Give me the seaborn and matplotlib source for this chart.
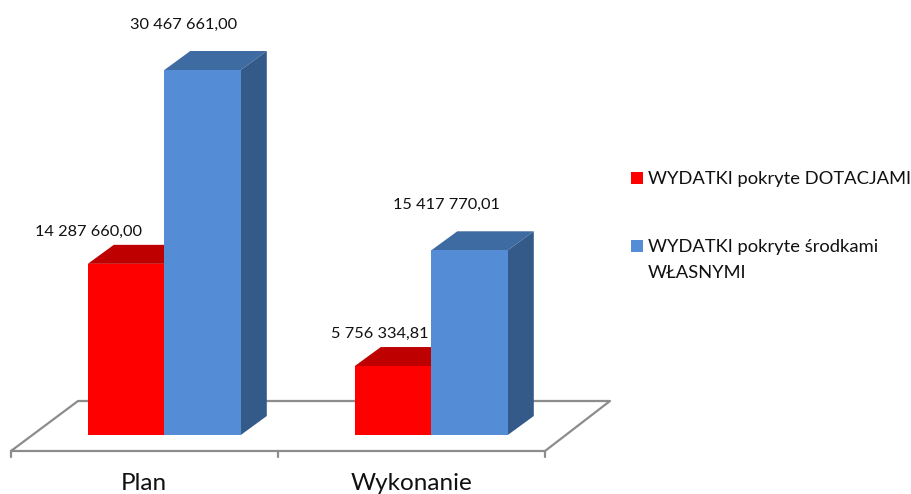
import matplotlib
matplotlib.use("Agg")
from matplotlib import pyplot as plt
from matplotlib.lines import Line2D
from matplotlib.patches import Polygon, Rectangle
from matplotlib.transforms import ScaledTranslation
import pandas as pd
import seaborn as sns

categories = ["Plan", "Wykonanie"]
series_names = ["WYDATKI pokryte DOTACJAMI", "WYDATKI pokryte środkami\nWŁASNYMI"]
dotacje = [14287660.00, 5756334.81]
wlasne = [30467661.00, 15417770.01]
labels_dotacje = ["14 287 660,00", "5 756 334,81"]
labels_wlasne = ["30 467 661,00", "15 417 770,01"]

W, H = 911, 494
DPI = 100
RED = "#FF0000"
RED_TOP = "#BE0000"
BLUE = "#558CD6"
BLUE_TOP = "#3F6BA3"
BLUE_SIDE = "#345A8A"
GREY = "#8C8C8C"
TEXT = "#111111"
DEPTH_X, DEPTH_Y = 26, 19

sns.set_theme(style="white")
plt.rcParams['font.family'] = ['Lato', 'DejaVu Sans']

df = pd.DataFrame({
    "cat": categories * 2,
    "series": [series_names[0]] * 2 + [series_names[1]] * 2,
    "value": dotacje + wlasne,
})

fig = plt.figure(figsize=(W / DPI, H / DPI), dpi=DPI)
ax = fig.add_axes([0, (H - 451) / H, 1, 451 / H])
ax.patch.set_alpha(0)

sns.barplot(data=df, x="cat", y="value", hue="series", palette=[RED, BLUE],
            width=0.573, gap=0, saturation=1, legend=False, linewidth=0, ax=ax, zorder=3)

# pixel scale: category step 267 px, tallest bar 365 px
px_x = 267
px_y = max(wlasne) / 365
ax.set_xlim(-164.3 / px_x, (W - 164.3) / px_x)
ax.set_ylim(-16 * px_y, 435 * px_y)

ax.set_xlabel("")
ax.set_ylabel("")
ax.set_yticks([])
ax.tick_params(axis="x", length=0, pad=15.5, labelsize=17.5, colors=TEXT)
shift = ScaledTranslation(-20 / DPI, 0, fig.dpi_scale_trans)
for lab in ax.get_xticklabels():
    lab.set_transform(lab.get_transform() + shift)
sns.despine(ax=ax, left=True, bottom=True, right=True, top=True)


def floor_line(xs, ys):
    fig.add_artist(Line2D([x / W for x in xs], [1 - y / H for y in ys],
                          color=GREY, lw=1.6, zorder=0))


# floor of the 3D chart
floor_line([11, 78, 610, 545, 11], [451, 401, 401, 451, 451])
floor_line([11, 11], [451, 457])
floor_line([278, 278], [451, 457])
floor_line([545, 545], [451, 457])

# depth faces behind the front of every bar
dx = DEPTH_X / px_x
dy = DEPTH_Y * px_y
faces = [(ax.containers[0], RED_TOP, RED_TOP), (ax.containers[1], BLUE_TOP, BLUE_SIDE)]
for bars, top_col, side_col in faces:
    for b in bars:
        x0, x1 = b.get_x(), b.get_x() + b.get_width()
        y1 = b.get_height()
        ax.add_patch(Polygon([(x0, y1), (x1, y1), (x1 + dx, y1 + dy), (x0 + dx, y1 + dy)],
                             fc=top_col, ec="none", zorder=2))
        ax.add_patch(Polygon([(x1, 0), (x1 + dx, dy), (x1 + dx, y1 + dy), (x1, y1)],
                             fc=side_col, ec="none", zorder=2))

# value labels, offsets in pixels from the top centre of the bar
offsets = [[(-38, 32), (-13, 32)], [(-19, 45), (-23, 45)]]
texts = [labels_dotacje, labels_wlasne]
for bars, labs, offs in zip(ax.containers, texts, offsets):
    for b, lab, (ox, oy) in zip(bars, labs, offs):
        ax.annotate(lab, (b.get_x() + b.get_width() / 2, b.get_height()),
                    xytext=(ox * 72 / DPI, oy * 72 / DPI), textcoords="offset points",
                    ha="center", va="center", fontsize=11.8, color=TEXT, zorder=5)

# legend by hand: the marker sits on the first line of a wrapped label
for name, col, y in zip(series_names, [RED, BLUE], [178, 246]):
    fig.add_artist(Rectangle((631 / W, 1 - (y + 6) / H), 12 / W, 12 / H,
                             transform=fig.transFigure, fc=col, ec="none"))
    fig.text(648 / W, 1 - (y - 7) / H, name, ha="left", va="top", fontsize=13.2,
             color=TEXT, linespacing=1.75)

fig.savefig("out.png", dpi=DPI)
